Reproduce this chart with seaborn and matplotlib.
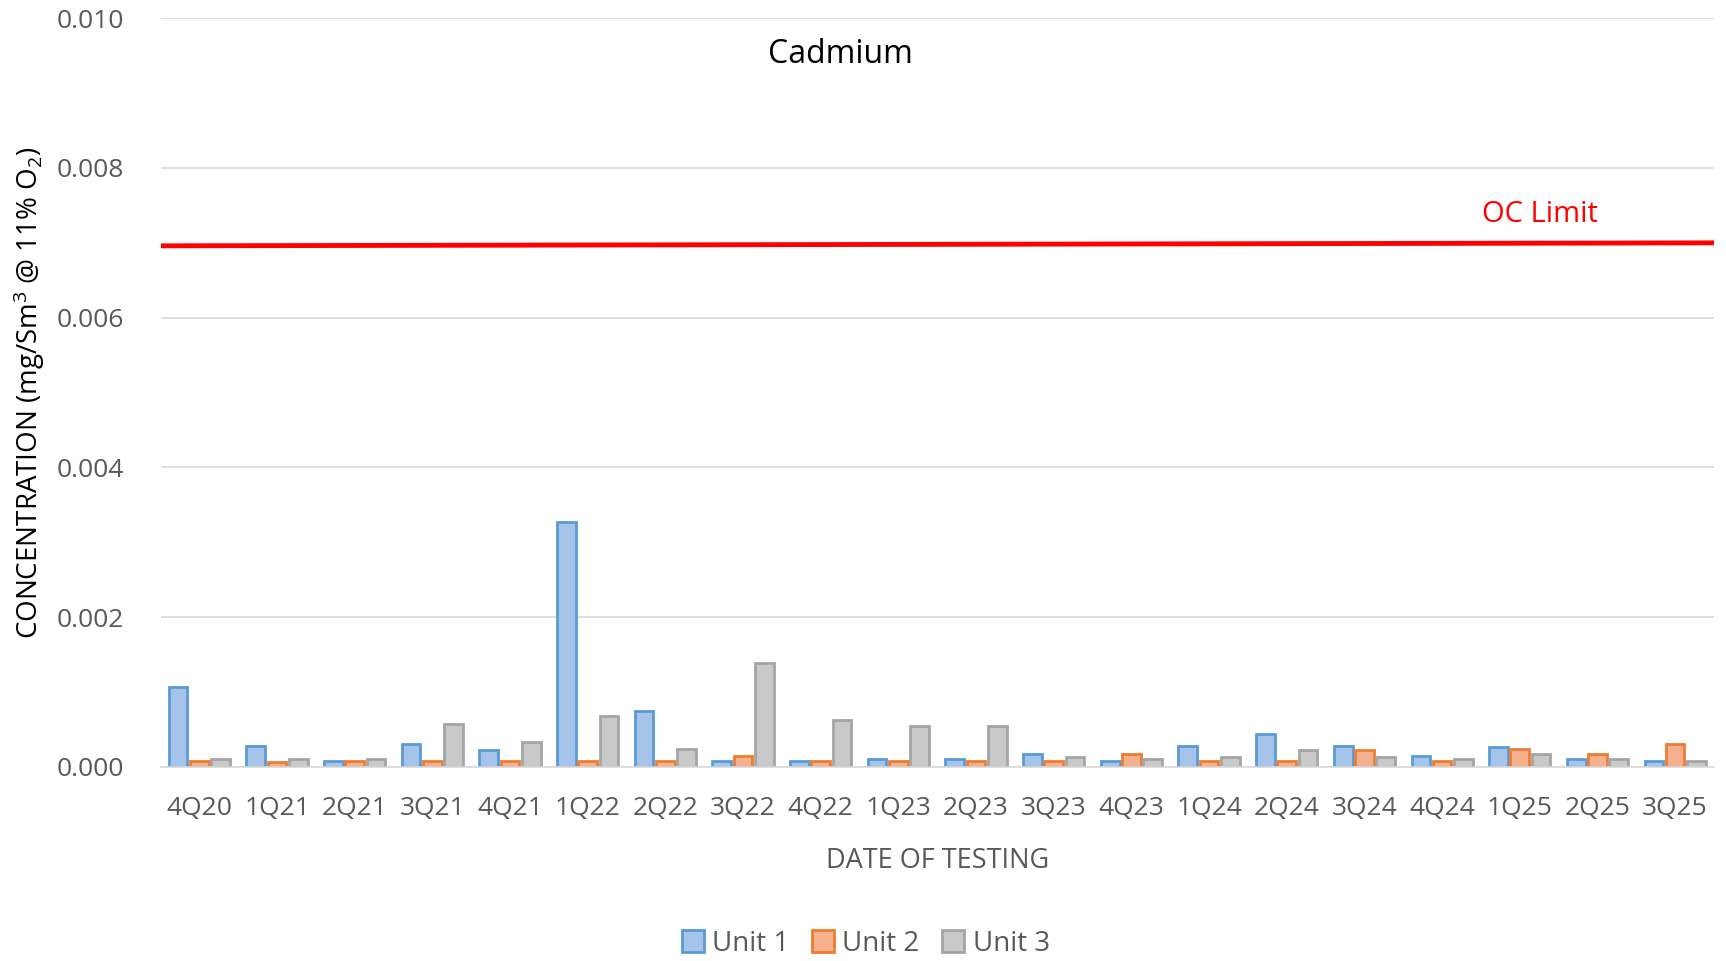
"""Cadmium concentration by quarter, grouped bars for three units with OC limit."""

import matplotlib
matplotlib.use("Agg")
import matplotlib.pyplot as plt
import numpy as np
import pandas as pd
import seaborn as sns

quarters = ["4Q20", "1Q21", "2Q21", "3Q21", "4Q21", "1Q22", "2Q22", "3Q22", "4Q22", "1Q23",
            "2Q23", "3Q23", "4Q23", "1Q24", "2Q24", "3Q24", "4Q24", "1Q25", "2Q25", "3Q25"]
unit1 = [0.00107, 0.00028, 0.00008, 0.00030, 0.00022, 0.00327, 0.00075, 0.00008, 0.00008, 0.00011,
         0.00011, 0.00017, 0.00008, 0.00028, 0.00044, 0.00028, 0.00015, 0.00026, 0.00011, 0.00008]
unit2 = [0.00008, 0.00006, 0.00008, 0.00008, 0.00008, 0.00008, 0.00008, 0.00015, 0.00008, 0.00008,
         0.00008, 0.00008, 0.00017, 0.00008, 0.00008, 0.00022, 0.00008, 0.00024, 0.00017, 0.00030]
unit3 = [0.00011, 0.00011, 0.00011, 0.00057, 0.00033, 0.00068, 0.00024, 0.00139, 0.00062, 0.00055,
         0.00055, 0.00013, 0.00011, 0.00013, 0.00022, 0.00013, 0.00011, 0.00017, 0.00011, 0.00008]
units = ["Unit 1", "Unit 2", "Unit 3"]
oc_limit = [0.00696, 0.00700]  # line runs across the full width, slightly rising
yticks = [0.000, 0.002, 0.004, 0.006, 0.008, 0.010]

fills = ["#A6C3E9", "#F5B18E", "#C9C9C9"]
edges = ["#5B9BD5", "#ED7D31", "#A5A5A5"]

df = pd.DataFrame({
    "quarter": quarters * 3,
    "unit": np.repeat(units, len(quarters)),
    "value": unit1 + unit2 + unit3,
})

sns.set_theme(style="white")
plt.rcParams["font.family"] = ["Open Sans", "DejaVu Sans"]
plt.rcParams["mathtext.default"] = "regular"

fig, ax = plt.subplots(figsize=(17.26, 9.61), dpi=100)
fig.subplots_adjust(left=0.093, right=0.993, top=0.981, bottom=0.202)

sns.barplot(data=df, x="quarter", y="value", hue="unit", order=quarters, hue_order=units,
            palette=fills, saturation=1, width=0.82, gap=0.12, linewidth=2, ax=ax)
for cont, ec in zip(ax.containers, edges):
    for bar in cont:
        bar.set_edgecolor(ec)

ax.plot([-0.5, len(quarters) - 0.5], oc_limit, color="#FF0000", linewidth=3.5, zorder=5)
ax.text(17.26, 0.00738, "OC Limit", color="#FF0000", fontsize=21,
        ha="center", va="center")
ax.text(8.26, 0.00952, "Cadmium", color="black", fontsize=23, ha="center", va="center")

ax.set_xlim(-0.5, len(quarters) - 0.5)
ax.set_ylim(0, 0.010)
ax.set_yticks(yticks)
ax.set_yticklabels([f"{v:.3f}" for v in yticks])
ax.grid(axis="y", color="#D9D9D9", linewidth=1.2)
ax.set_axisbelow(True)
for side in ["top", "right", "left"]:
    ax.spines[side].set_visible(False)
ax.spines["bottom"].set_color("#D9D9D9")
ax.spines["bottom"].set_linewidth(1.2)
ax.tick_params(axis="both", colors="#595959", labelsize=19, length=0)
ax.tick_params(axis="y", pad=26)
ax.tick_params(axis="x", pad=21)

ax.set_xlabel("DATE OF TESTING", fontsize=19.5, color="#595959", labelpad=19)
ax.set_ylabel("CONCENTRATION (mg/Sm$^3$ @ 11% O$_2$)", fontsize=20, color="black", labelpad=7)

handles, labels = ax.get_legend_handles_labels()
for h, ec in zip(handles, edges):
    h.set_edgecolor(ec)
ax.legend(handles, labels, loc="center", bbox_to_anchor=(0.454, -0.236), ncol=3, frameon=False,
          fontsize=20, labelcolor="#595959", handlelength=0.8, handleheight=0.8,
          handletextpad=0.3, columnspacing=0.8)

fig.savefig("out.png", dpi=100, facecolor="white")
plt.close(fig)
